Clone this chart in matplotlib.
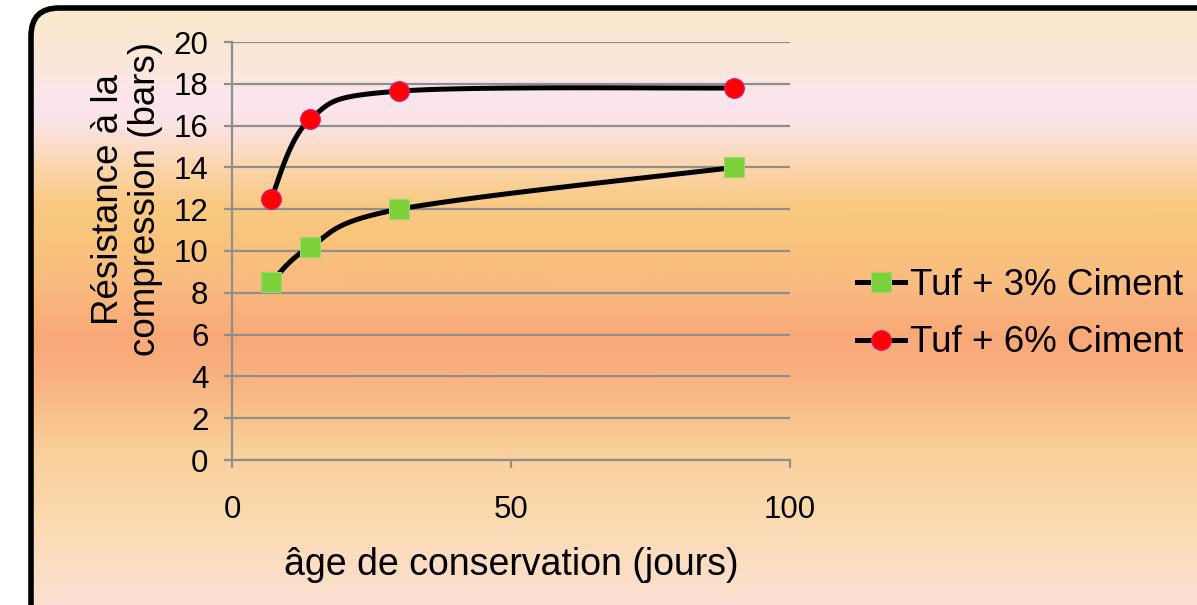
import numpy as np
import matplotlib
matplotlib.use("Agg")
from matplotlib import pyplot as plt
from matplotlib.patches import FancyBboxPatch
from matplotlib.lines import Line2D
from matplotlib.colors import to_rgb

plt.rcParams['font.family'] = ['Liberation Sans', 'DejaVu Sans']

# curing age (days) and compressive strength (bars)
days = [7, 14, 30, 90]
tuf_3pct = [8.5, 10.2, 12.0, 14.0]
tuf_6pct = [12.5, 16.3, 17.65, 17.8]
series_labels = ['Tuf + 3% Ciment', 'Tuf + 6% Ciment']

W, H = 1197, 605


def smooth_curve(xs, ys, n=40):
    """Catmull-Rom style cubic Bezier through the points (spreadsheet 'smoothed line')."""
    p = np.column_stack([xs, ys]).astype(float)
    ext = np.vstack([p[0], p, p[-1]])
    out = [p[:1]]
    t = np.linspace(0, 1, n)[1:, None]
    for i in range(len(p) - 1):
        p0, p1, p2, p3 = ext[i], ext[i + 1], ext[i + 2], ext[i + 3]
        c1 = p1 + (p2 - p0) / 6.0
        c2 = p2 - (p3 - p1) / 6.0
        seg = ((1 - t) ** 3) * p1 + 3 * ((1 - t) ** 2) * t * c1 + 3 * (1 - t) * t ** 2 * c2 + t ** 3 * p2
        out.append(seg)
    pts = np.vstack(out)
    return pts[:, 0], pts[:, 1]


fig = plt.figure(figsize=(W / 100, H / 100), dpi=100)
fig.patch.set_facecolor('white')

# background panel with vertical colour bands and a rounded black frame
bg = fig.add_axes([0, 0, 1, 1])
bg.set_xlim(0, W)
bg.set_ylim(H, 0)
bg.axis('off')

stops = [(0, '#FAEACA'), (60, '#FBE7D8'), (100, '#FCE5EE'), (125, '#FCE3E4'),
         (165, '#FBD6AE'), (205, '#F9C982'), (240, '#F9C47C'), (285, '#F9BB80'),
         (335, '#F9A978'), (365, '#F9AD7E'), (405, '#F9BD88'), (455, '#FAD19C'),
         (505, '#FBD8AA'), (560, '#FBDDC2'), (605, '#FCE0D2')]
ys_stop = np.array([s[0] for s in stops], float)
cols = np.array([to_rgb(s[1]) for s in stops])
rows = np.arange(H)
grad = np.stack([np.interp(rows, ys_stop, cols[:, k]) for k in range(3)], axis=1)
grad = np.repeat(grad[:, None, :], 4, axis=1)

frame = FancyBboxPatch((31, 8), 1260, 700, boxstyle='round,pad=0,rounding_size=28',
                       facecolor='none', edgecolor='black', linewidth=4.0, zorder=3)
bg.add_patch(frame)
im = bg.imshow(grad, extent=(0, W, H, 0), aspect='auto', interpolation='bilinear', zorder=1)
im.set_clip_path(frame)

# main plot
ax = fig.add_axes([232 / W, 1 - 460 / H, (790 - 232) / W, (460 - 42) / H])
ax.patch.set_alpha(0)

grid_color = '#8E8E8E'
ax.set_xlim(0, 100)
ax.set_ylim(0, 20)
ax.set_xticks([0, 50, 100])
ax.set_yticks(np.arange(0, 21, 2))
ax.yaxis.grid(True, color=grid_color, linewidth=1.6)
ax.set_axisbelow(True)
for side in ['top', 'right']:
    ax.spines[side].set_visible(False)
for side in ['left', 'bottom']:
    ax.spines[side].set_color(grid_color)
    ax.spines[side].set_linewidth(1.6)
ax.tick_params(axis='both', direction='out', length=6, width=1.6, color=grid_color,
               labelsize=22.5, labelcolor='black')
ax.tick_params(axis='y', pad=11)
ax.tick_params(axis='x', pad=19)

styles = [
    dict(marker='s', markersize=14, markerfacecolor='#7DD13A', markeredgecolor='#9BDA6A', markeredgewidth=0.8),
    dict(marker='o', markersize=14, markerfacecolor='#FF0000', markeredgecolor='#E0146E', markeredgewidth=1.0),
]

handles = []
for vals, st, lab in zip([tuf_3pct, tuf_6pct], styles, series_labels):
    sx, sy = smooth_curve(days, vals)
    ax.plot(sx, sy, color='black', linewidth=3.6, solid_capstyle='round', zorder=3, clip_on=False)
    ax.plot(days, vals, linestyle='none', zorder=4, clip_on=False, **st)
    handles.append(Line2D([], [], color='black', linewidth=3.6, label=lab, **st))

fig.legend(handles=handles, loc='center left', bbox_to_anchor=(857 / W, 1 - 314 / H),
           frameon=False, fontsize=26.5, handlelength=1.3, handletextpad=0.15,
           labelspacing=0.62, borderpad=0, borderaxespad=0)

fig.text(127 / W, 1 - 199 / H, 'Résistance à la\ncompression (bars)', rotation=90,
         ha='center', va='center', multialignment='center', fontsize=26.5, linespacing=1.05)
fig.text(511 / W, 1 - 565 / H, 'âge de conservation (jours)', ha='center', va='center',
         fontsize=27)

fig.savefig('out.png', dpi=100)
